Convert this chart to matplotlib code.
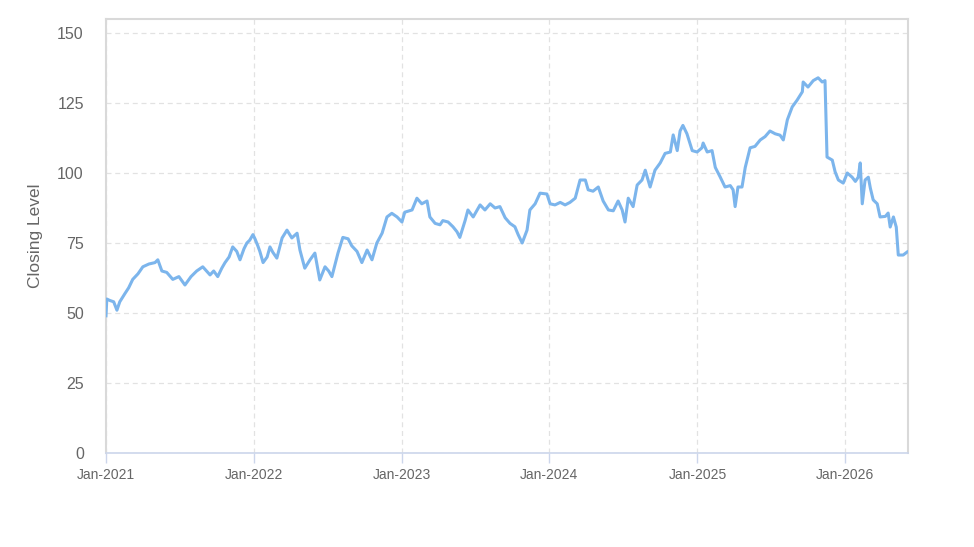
import pandas as pd
import matplotlib.pyplot as plt
import matplotlib.dates as mdates

# fechas y cierres
fechas = [
    "2021-01-01", "2021-01-03", "2021-01-10", "2021-01-20", "2021-01-28", "2021-02-04",
    "2021-02-17", "2021-02-26", "2021-03-08", "2021-03-21", "2021-04-02", "2021-04-17",
    "2021-05-02", "2021-05-09", "2021-05-19", "2021-05-31", "2021-06-15", "2021-06-30",
    "2021-07-15", "2021-07-30", "2021-08-13", "2021-08-28", "2021-09-15", "2021-09-24",
    "2021-10-04", "2021-10-14", "2021-10-22", "2021-11-01", "2021-11-10", "2021-11-20",
    "2021-11-28", "2021-12-08", "2021-12-15", "2021-12-22", "2021-12-30",
    "2022-01-04", "2022-01-11", "2022-01-16", "2022-01-24", "2022-02-03", "2022-02-10",
    "2022-02-17", "2022-02-27", "2022-03-12", "2022-03-24", "2022-04-05", "2022-04-18",
    "2022-04-25", "2022-05-07", "2022-05-20", "2022-06-01", "2022-06-13", "2022-06-26",
    "2022-07-05", "2022-07-13", "2022-07-28", "2022-08-09", "2022-08-22", "2022-08-31",
    "2022-09-13", "2022-09-25", "2022-10-08", "2022-10-20", "2022-11-01", "2022-11-14",
    "2022-11-26", "2022-12-08", "2022-12-21", "2023-01-02", "2023-01-09",
    "2023-01-27", "2023-02-08", "2023-02-20", "2023-03-05", "2023-03-12", "2023-03-25",
    "2023-04-06", "2023-04-13", "2023-04-26", "2023-05-08", "2023-05-18", "2023-05-25",
    "2023-06-07", "2023-06-14", "2023-06-27", "2023-07-14", "2023-07-26", "2023-08-08",
    "2023-08-20", "2023-09-01", "2023-09-14", "2023-09-26", "2023-10-08", "2023-10-16",
    "2023-10-26", "2023-11-07", "2023-11-14", "2023-11-27", "2023-12-09", "2023-12-26",
    "2024-01-03", "2024-01-15", "2024-01-28", "2024-02-09", "2024-02-21", "2024-03-05",
    "2024-03-17", "2024-03-30", "2024-04-06", "2024-04-18", "2024-05-01", "2024-05-13",
    "2024-05-26", "2024-06-07", "2024-06-19", "2024-06-29", "2024-07-06", "2024-07-14",
    "2024-07-26", "2024-08-05", "2024-08-17", "2024-08-25", "2024-09-06", "2024-09-18",
    "2024-10-01", "2024-10-13", "2024-10-26", "2024-11-02", "2024-11-12", "2024-11-19",
    "2024-11-26", "2024-12-06", "2024-12-19", "2024-12-31", "2025-01-12",
    "2025-01-15", "2025-01-25", "2025-02-06", "2025-02-14", "2025-02-26", "2025-03-10",
    "2025-03-23", "2025-03-30", "2025-04-04", "2025-04-11", "2025-04-21", "2025-04-29",
    "2025-05-11", "2025-05-23", "2025-06-05", "2025-06-17", "2025-06-29", "2025-07-12",
    "2025-07-24", "2025-08-01", "2025-08-11", "2025-08-23", "2025-09-04", "2025-09-17",
    "2025-09-19", "2025-10-01", "2025-10-14", "2025-10-26", "2025-11-05", "2025-11-12",
    "2025-11-17", "2025-11-30", "2025-12-07", "2025-12-15", "2025-12-27", "2026-01-06",
    "2026-01-18", "2026-01-26", "2026-02-02", "2026-02-07", "2026-02-12", "2026-02-19",
    "2026-02-27", "2026-03-04", "2026-03-11", "2026-03-21", "2026-03-28", "2026-04-10",
    "2026-04-17", "2026-04-22", "2026-04-30", "2026-05-07", "2026-05-12", "2026-05-24",
    "2026-06-03",
]
cierres = [
    49, 55, 54.5, 54, 51, 54,
    57, 59, 62, 64, 66.5, 67.5,
    68, 69, 65, 64.5, 62, 63,
    60, 63, 65, 66.5, 63.6, 65,
    63, 66, 68, 70, 73.6, 72,
    69, 73, 75, 76, 78,
    76.5, 74, 72, 68, 70, 73.6,
    71.7, 69.6, 76.8, 79.6, 76.8, 78.5,
    72.5, 66, 69, 71.4, 61.8, 66.5,
    65, 63, 71.4, 77, 76.5, 74,
    72, 68, 72.5, 69, 75, 78.5,
    84.3, 85.6, 84.3, 82.5, 86,
    86.8, 91, 89, 90, 84.3, 82,
    81.5, 83, 82.5, 80.8, 79, 77,
    83, 86.8, 84.3, 88.6, 86.8, 89,
    87.5, 88, 84, 82, 80.8, 78,
    75, 79.6, 86.8, 89, 92.8, 92.5,
    89, 88.6, 89.5, 88.6, 89.5, 91,
    97.5, 97.5, 94, 93.5, 95, 90,
    86.8, 86.5, 90, 86.8, 82.5, 91,
    88, 95.7, 97.5, 101, 95, 101,
    103.6, 107, 107.5, 113.6, 108, 115,
    117, 114, 108, 107.5, 109,
    110.7, 107.5, 108, 102, 98.6, 95,
    95.5, 94, 88, 95, 95, 102,
    109, 109.5, 111.8, 113, 115, 114,
    113.5, 111.8, 119, 123.6, 126, 129,
    132.5, 130.7, 133, 134, 132.5, 133,
    105.7, 104.6, 100.4, 97.5, 96.4, 100,
    98.5, 97, 98.5, 103.6, 89, 97.5,
    98.5, 94.6, 90.4, 89, 84.3, 84.5,
    85.7, 80.7, 84.3, 80.7, 70.7, 70.7,
    71.8,
]
ticks_y = [0, 25, 50, 75, 100, 125, 150]
ticks_x = ["2021-01-01", "2022-01-01", "2023-01-01", "2024-01-01", "2025-01-01", "2026-01-01"]

GRIS = "#666666"
BORDE = "#ccd6eb"
MARCO = "#d9d9d9"

def main():
    plt.rcParams['font.family'] = ['Liberation Sans', 'DejaVu Sans']
    df = pd.DataFrame({'fecha': pd.to_datetime(fechas), 'cierre': cierres})

    fig = plt.figure(figsize=(9.74, 5.47), dpi=100)
    ax = fig.add_axes([106 / 974, 1 - 453 / 547, 802 / 974, 434 / 547])

    ax.plot(df['fecha'], df['cierre'], color="#7cb5ec", linewidth=2.2,
            solid_joinstyle='round', zorder=3)

    ax.set_xlim(df['fecha'].iloc[0], df['fecha'].iloc[-1] + pd.Timedelta(days=2))
    ax.set_ylim(0, 155)
    ax.set_yticks(ticks_y)
    ax.set_xticks(pd.to_datetime(ticks_x))
    ax.xaxis.set_major_formatter(mdates.DateFormatter('%b-%Y'))

    ax.grid(True, color="#e2e2e2", linestyle=(0, (4, 3)), linewidth=0.9)
    ax.set_axisbelow(True)
    for lado in ['top', 'left', 'right']:
        ax.spines[lado].set_color(MARCO)
        ax.spines[lado].set_linewidth(1.5)
    ax.spines['bottom'].set_color(BORDE)
    ax.spines['bottom'].set_linewidth(1.2)

    ax.tick_params(axis='y', length=0, pad=16, labelsize=11.5, labelcolor=GRIS)
    ax.tick_params(axis='x', length=7, width=1, color=BORDE, pad=4,
                   labelsize=10, labelcolor=GRIS)
    ax.set_ylabel("Closing Level", color=GRIS, fontsize=12.5, labelpad=10)

    fig.savefig("out.png", dpi=100)

if __name__ == "__main__":
    main()
